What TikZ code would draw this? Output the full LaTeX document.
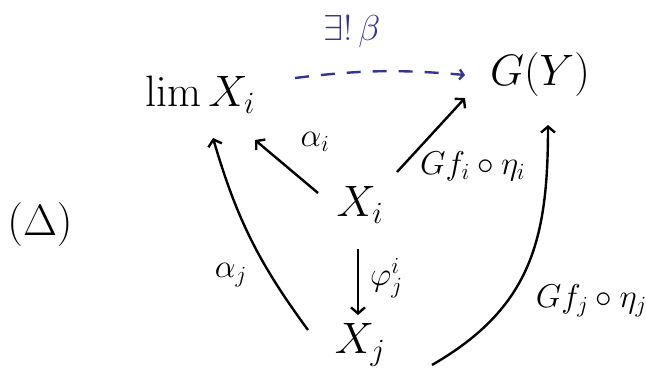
\RequirePackage{fix-cm}
\documentclass[tikz,border=0pt]{standalone}
\usepackage{amsmath,amssymb}
\usepackage{tikz}
\usetikzlibrary{arrows.meta, positioning, calc}
\usepackage{xcolor}
\definecolor{penblue}{RGB}{52,52,150}

\begin{document}
\begin{tikzpicture}[
    x=1pt, y=1pt,
    % Object styles
    obj/.style={inner sep=2pt, on grid, font=\fontsize{44}{50}\selectfont},
    lbl/.style={inner sep=1pt, font=\fontsize{33}{38}\selectfont},
    % Arrow styles
    arr/.style={-{Straight Barb[length=6pt, width=14pt]}, line width=2.4pt},
    uniqarr/.style={-{Straight Barb[length=4pt, width=10pt]}, line width=2.4pt,
      dash pattern=on 14pt off 12pt, color=penblue}
  ]
  \useasboundingbox (0,0) rectangle (646,-390);

  % ============ Objects ============
  \node[obj] (lim) at (200,-95) {$\lim X_i$};
  \node[obj, above right=20pt and 340pt of lim] (GY) {$G(Y)$};
  \node[obj, below right=110pt and 160pt of lim] (Xi) {$X_i$};
  \node[obj, below=140pt of Xi] (Xj) {$X_j$};
  \node[obj, below left=20pt and 320pt of Xi] (delta) {$(\Delta)$};

  % ============ Arrows ============
  % Unique factorisation
  \draw[uniqarr] ($(lim)+(95,17)$) to[bend left=6]
    node[lbl, midway, anchor=south, yshift=22pt, xshift=-28pt, text=penblue,
      font=\fontsize{36}{40}\selectfont] (beta) {$\exists!\,\beta$}
    ($(GY)+(-75,0)$);

  % Cone over lim X_i
  \draw[arr] ($(Xi)+(-42,12)$) -- ($(lim)+(55,-45)$)
    node[lbl, pos=0.85, anchor=south west, xshift=34pt, yshift=-6pt] (ai) {$\alpha_i$};
  \draw[arr] ($(Xj)+(-52,15)$) to[bend left=10]
    node[lbl, pos=0.35, anchor=east, xshift=-16pt, yshift=-10pt] (aj) {$\alpha_j$}
    ($(lim)+(13,-43)$);
  \draw[arr] ($(Xi)+(-2,-44)$) -- ($(Xj)+(-2,30)$)
    node[lbl, midway, anchor=west, xshift=10pt, yshift=4pt] (phi) {$\varphi^i_j$};

  % Cone over G(Y)
  \draw[arr] ($(Xi)+(37,33)$) -- ($(GY)+(-75,-23)$)
    node[lbl, pos=0.25, anchor=north west, xshift=4pt, yshift=4pt] (gi) {$Gf_i\circ\eta_i$};
  \draw[arr] ($(Xj)+(72,-20)$) to[out=30, in=-90, looseness=1.1]
    node[lbl, pos=0.4, anchor=west, xshift=18pt, yshift=-12pt] (gj) {$Gf_j\circ\eta_j$}
    ($(GY)+(8,-50)$);

\end{tikzpicture}
\end{document}
